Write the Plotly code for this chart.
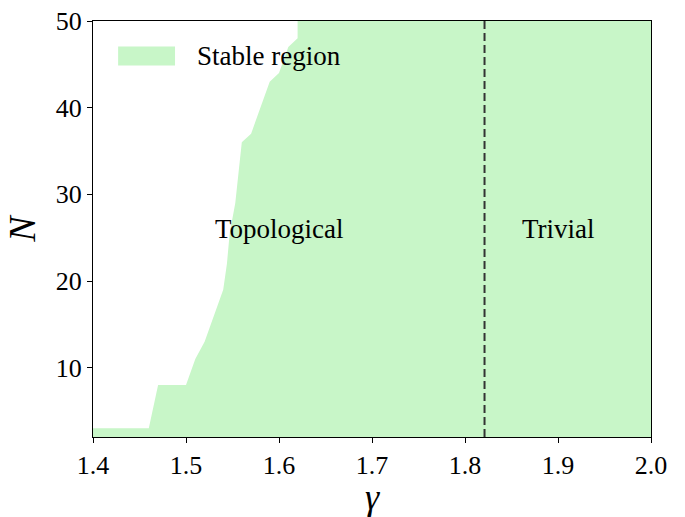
import plotly.graph_objects as go

# Boundary of the stable region (vertices)
gamma_boundary = [1.40, 1.46, 1.47, 1.50, 1.51, 1.52, 1.54, 1.544, 1.547, 1.553,
                  1.56, 1.57, 1.59, 1.60, 1.61, 1.62, 1.62, 2.00]
N_boundary = [3, 3, 8, 8, 11, 13, 19, 22, 25.5, 29,
              36, 37, 43, 44, 47, 48, 50, 50]

gamma_transition = 1.821
region_labels = ["Topological", "Trivial"]
region_gamma = [1.6, 1.9]
region_N = [26, 26]
x_ticks = [1.4, 1.5, 1.6, 1.7, 1.8, 1.9, 2.0]
y_ticks = [10, 20, 30, 40, 50]

FILL = "#c8f6c8"
FONT = "Liberation Serif"

fig = go.Figure()
fig.add_trace(go.Scatter(
    x=gamma_boundary, y=N_boundary, mode="lines",
    line=dict(width=0, color=FILL), fill="tozeroy", fillcolor=FILL,
    name="Stable region", showlegend=False, hoverinfo="skip"))

fig.add_shape(type="line", x0=gamma_transition, x1=gamma_transition, y0=0, y1=1,
              xref="x", yref="paper",
              line=dict(color="#333333", width=2, dash="8px,4px"))

for t, gx, ny in zip(region_labels, region_gamma, region_N):
    fig.add_annotation(x=gx, y=ny, text=t, showarrow=False,
                       xanchor="center", yanchor="middle",
                       font=dict(family=FONT, size=27, color="black"))

# legend drawn manually (wide patch like matplotlib)
fig.add_shape(type="rect", xref="paper", yref="paper",
              x0=0.045, x1=0.147, y0=0.893, y1=0.939,
              fillcolor=FILL, line=dict(width=0))
fig.add_annotation(xref="paper", yref="paper", x=0.183, y=0.916,
                   text="Stable region", showarrow=False,
                   xanchor="left", yanchor="middle",
                   font=dict(family=FONT, size=27, color="black"))

fig.update_layout(
    width=685, height=517,
    margin=dict(l=93, r=34, t=21, b=80),
    paper_bgcolor="white", plot_bgcolor="white",
    font=dict(family=FONT, color="black"),
    showlegend=False,
)
fig.update_xaxes(
    range=[1.4, 2.0], tickvals=x_ticks, ticktext=[f"{v:.1f}" for v in x_ticks],
    ticks="outside", ticklen=5, tickwidth=1.2, tickcolor="black",
    showline=True, linecolor="black", linewidth=1.2, mirror=True,
    showgrid=False, zeroline=False, automargin=False,
    tickfont=dict(family=FONT, size=26),
    title=dict(text="<i>γ</i>", font=dict(family=FONT, size=36), standoff=12),
)
fig.update_yaxes(
    range=[2, 50], tickvals=y_ticks,
    ticks="outside", ticklen=5, tickwidth=1.2, tickcolor="black",
    showline=True, linecolor="black", linewidth=1.2, mirror=True,
    showgrid=False, zeroline=False, automargin=False,
    tickfont=dict(family=FONT, size=26),
    title=dict(text="<i>N</i>", font=dict(family=FONT, size=38), standoff=8),
)

fig.write_html("out.html")
